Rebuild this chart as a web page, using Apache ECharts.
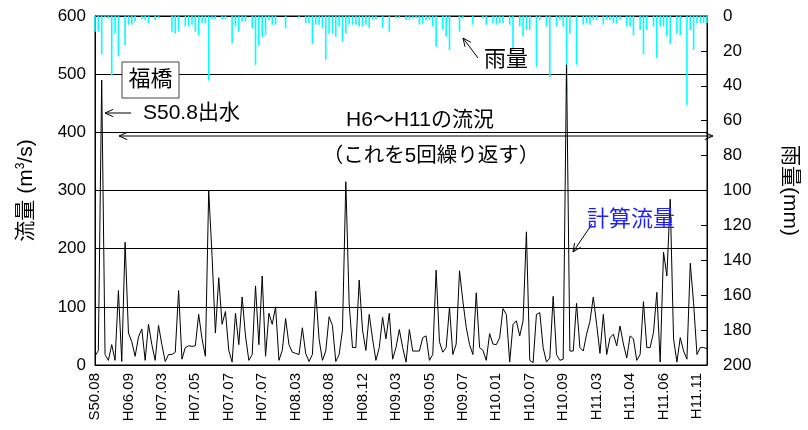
<!DOCTYPE html>
<html><head><meta charset="utf-8">
<script src="https://cdn.jsdelivr.net/npm/echarts@6.0.0/dist/echarts.min.js"></script>
<style>html,body{margin:0;padding:0;background:#fff}#c{width:808px;height:430px}</style>
</head><body><div id="c"></div>
<script>
// x-axis tick labels (one every 10 time steps)
const tickLabels = ['S50.08','H06.09','H07.03','H07.05','H07.07','H07.07','H08.03','H08.08','H08.12','H09.03',
  'H09.05','H09.07','H10.01','H10.07','H10.09','H11.03','H11.04','H11.06','H11.11'];
const stepsPerLabel = 10;
// computed flow (m3/s), one value per time step
const flow = [
  15,25,490,18,8,35,8,128,6,211,
  55,40,15,48,62,8,70,35,8,68,
  35,6,18,18,22,128,10,30,33,32,
  33,87,45,15,300,188,55,150,70,92,
  25,5,89,35,117,50,8,18,136,35,
  153,15,89,70,100,8,25,80,35,22,
  20,18,64,20,6,18,127,45,8,24,
  83,68,6,18,60,315,105,30,30,146,
  60,25,87,45,8,30,82,45,89,10,
  30,61,30,5,61,24,24,24,47,50,
  8,18,163,40,22,30,99,18,36,162,
  110,65,35,18,124,30,25,8,54,36,
  35,47,97,87,5,70,76,50,76,229,
  8,4,87,90,30,5,12,118,18,8,
  10,516,24,24,106,30,24,53,75,117,
  70,20,87,18,47,53,33,67,36,12,
  50,45,8,18,109,30,30,56,125,5,
  194,153,285,45,5,47,24,10,175,106,
  18,30,30,28
];
// rainfall (mm), one value per time step
const rain = [
  9,9,22,1,1.5,34,10,23,0,16.6,
  5,5,3,0,2,2.5,4,0,2.3,1.3,
  0,0,0,9,10,9,0,6,6,5,
  9,11,4,4,37,2,2,0,2,2,
  0,15.7,6,9,3,3.2,0,7,28,17,
  12,11,2.3,5,5,0,0,7,0,0,
  0,1.3,0,4,4,16,5,5,7,25,
  10,10,12,6,14.7,10,5,5,5,6,
  6,5,7,2,2,0,7,0,9,0,
  1.3,1.3,0,2.3,2.3,1.3,1.3,5,4.5,2.3,
  2.3,6,17.6,0,8,11.8,19.5,0,0,9,
  1.3,0,0,5,0,0,1.3,5,0,4,
  5,4,4,0,5,19.5,0,6,11.8,8,
  8,0,29,2.3,0,6,35,0,6,2.3,
  6,44,10,0,28,0,5,4,5,2.3,
  2.3,0,5,2.3,2.3,4,4,2.3,0,6,
  6,11,0,8,22,8,0,6,24,6,
  6,11.8,16,0,10,11,0,51,8,19.5,
  4,4,4,4
];

const categories = flow.map((v, i) => (i % stepsPerLabel === 0 ? (tickLabels[i / stepsPerLabel] || '') : ''));

const LAT = 'Liberation Sans, Arial, sans-serif';
const JP = '"Liberation Sans", "Noto Sans CJK JP", sans-serif';

function arrowHead(x1, y1, x2, y2, len, spread) {
  const a = Math.atan2(y2 - y1, x2 - x1);
  const p1 = [x2 - len * Math.cos(a - spread), y2 - len * Math.sin(a - spread)];
  const p2 = [x2 - len * Math.cos(a + spread), y2 - len * Math.sin(a + spread)];
  return { type: 'polyline', shape: { points: [p1, [x2, y2], p2] }, style: { stroke: '#000', lineWidth: 1, fill: null }, z: 100 };
}
function arrow(x1, y1, x2, y2, both) {
  const els = [{ type: 'line', shape: { x1, y1, x2, y2 }, style: { stroke: '#000', lineWidth: 1 }, z: 100 },
    arrowHead(x1, y1, x2, y2, 9, 0.42)];
  if (both) els.push(arrowHead(x2, y2, x1, y1, 9, 0.42));
  return els;
}
function txt(t, x, y, size, color) {
  return { type: 'text', z: 101, style: { text: t, x, y, fill: color || '#000', font: size + 'px ' + JP, textAlign: 'center', textVerticalAlign: 'middle' } };
}

const chart = echarts.init(document.getElementById('c'), null, { renderer: 'canvas' });
chart.setOption({
  animation: false,
  grid: { left: 95, right: 93, top: 16, bottom: 65, show: true, borderColor: '#000', borderWidth: 1, containLabel: false },
  xAxis: {
    type: 'category', data: categories, boundaryGap: false,
    axisLine: { lineStyle: { color: '#000' } }, axisTick: { show: false },
    axisLabel: { interval: stepsPerLabel - 1, rotate: 90, color: '#000', fontSize: 15, fontFamily: LAT, margin: 8 },
    splitLine: { show: false }
  },
  yAxis: [{
    type: 'value', min: 0, max: 600, interval: 100, position: 'left',
    name: '流量 (m{sup|3}/s)', nameLocation: 'middle', nameGap: 58,
    nameTextStyle: { fontSize: 21, color: '#000', fontFamily: JP, rich: { sup: { fontSize: 12, fontFamily: LAT, verticalAlign: 'top', padding: [0, 0, 10, 0] } } },
    axisLine: { show: true, lineStyle: { color: '#000' } }, axisTick: { show: false },
    axisLabel: { color: '#000', fontSize: 17, fontFamily: LAT, margin: 9 },
    splitLine: { show: true, lineStyle: { color: '#000', width: 1 } }
  }, {
    type: 'value', min: 0, max: 200, interval: 20, inverse: true, position: 'right',
    name: '雨量(mm)', nameLocation: 'middle', nameGap: 72, nameRotate: -90,
    nameTextStyle: { fontSize: 21, color: '#000', fontFamily: JP },
    axisLine: { show: true, lineStyle: { color: '#000' } },
    axisTick: { show: true, inside: true, length: 6, lineStyle: { color: '#000' } },
    axisLabel: { color: '#000', fontSize: 17, fontFamily: LAT, margin: 16 },
    splitLine: { show: false }
  }],
  series: [{
    type: 'bar', yAxisIndex: 1, data: rain, barWidth: 1.6, itemStyle: { color: '#00FFFF' }, silent: true, z: 1
  }, {
    type: 'line', yAxisIndex: 0, data: flow, symbol: 'none', lineStyle: { color: '#000', width: 1 }, silent: true, z: 3
  }],
  graphic: [
    { type: 'rect', shape: { x: 122, y: 62, width: 57, height: 36 }, style: { fill: '#fff', stroke: '#444', lineWidth: 1 }, z: 100 },
    txt('福橋', 150.5, 80, 22),
    ...arrow(131, 113, 105, 113, false),
    { type: 'text', z: 101, style: { text: 'S50.8出水', x: 143, y: 113, fill: '#000', font: '21px ' + JP, textAlign: 'left', textVerticalAlign: 'middle' } },
    txt('H6〜H11の流況', 420, 120, 21),
    ...arrow(119, 136, 713, 136, true),
    txt('（これを5回繰り返す）', 431, 156, 20.5),
    ...arrow(478, 58, 463, 38, false),
    txt('雨量', 506, 60, 22),
    txt('計算流量', 631, 220, 22, '#1f1fff'),
    ...arrow(592, 224, 573, 252, false)
  ]
});
</script>
</body></html>
